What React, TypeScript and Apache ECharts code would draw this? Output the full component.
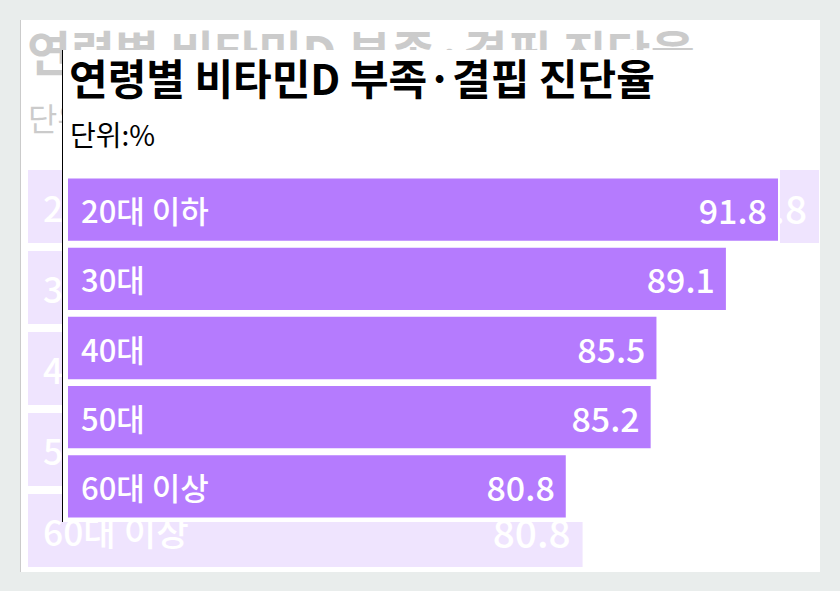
import React, { useEffect, useRef } from 'react';
import * as echarts from 'echarts';

const chartTitle = '연령별 비타민D 부족·결핍 진단율';
const unitText = '단위:%';
const categories = ['20대 이하', '30대', '40대', '50대', '60대 이상'];
const rates = [91.8, 89.1, 85.5, 85.2, 80.8];
const axisMin = 55;
const axisMax = 91.8;

const FONT = '"Noto Sans CJK KR", "Noto Sans", sans-serif';
const BAR_COLOR = '#b57bfe';

interface Layout {
  fs: number;
  titleTop: number;
  subTop: number;
  left: number;
  right: number;
  top: number;
  bottom: number;
  nameGap: number;
  valueGap: number;
}

const buildOption = (l: Layout) => ({
  animation: false,
  title: [
    {
      text: chartTitle,
      left: 1,
      top: l.titleTop,
      textStyle: { fontFamily: FONT, fontSize: 42 * l.fs, fontWeight: 'bold', color: '#000' }
    },
    {
      text: unitText,
      left: 2,
      top: l.subTop,
      textStyle: { fontFamily: FONT, fontSize: 28 * l.fs, fontWeight: 'normal', color: '#000' }
    }
  ],
  grid: { left: l.left, right: l.right, top: l.top, bottom: l.bottom, containLabel: false },
  xAxis: {
    type: 'value',
    min: axisMin,
    max: axisMax,
    show: false
  },
  yAxis: {
    type: 'category',
    data: categories,
    inverse: true,
    z: 10,
    axisLine: { show: false },
    axisTick: { show: false },
    axisLabel: {
      inside: true,
      margin: l.nameGap,
      color: '#fff',
      fontFamily: FONT,
      fontSize: 31 * l.fs,
      fontWeight: 500
    }
  },
  series: [
    {
      type: 'bar',
      data: rates,
      barCategoryGap: '10%',
      itemStyle: { color: BAR_COLOR },
      label: {
        show: true,
        position: 'insideRight',
        distance: l.valueGap,
        color: '#fff',
        fontFamily: FONT,
        fontSize: 34 * l.fs,
        fontWeight: 500,
        formatter: (p: any) => p.value.toFixed(1)
      }
    }
  ]
});

const BarChart: React.FC<{ width: number; height: number; layout: Layout }> = ({ width, height, layout }) => {
  const ref = useRef<HTMLDivElement>(null);

  useEffect(() => {
    if (!ref.current) return;
    const chart = echarts.init(ref.current, undefined, { renderer: 'svg' });
    chart.setOption(buildOption(layout));
    return () => {
      chart.dispose();
    };
  }, [layout]);

  return <div ref={ref} style={{ width, height }} />;
};

const mainLayout: Layout = {
  fs: 1,
  titleTop: 0,
  subTop: 65,
  left: 5,
  right: 2,
  top: 125,
  bottom: 1,
  nameGap: 13,
  valueGap: 11
};

const ghostLayout: Layout = {
  fs: 1.14,
  titleTop: 1,
  subTop: 76,
  left: 7,
  right: 1,
  top: 146,
  bottom: 1,
  nameGap: 15,
  valueGap: 12
};

export default function App() {
  return (
    <div style={{ position: 'fixed', left: 0, top: 0, width: 840, height: 591, background: '#e9edec' }}>
      <div style={{ position: 'absolute', left: 20, top: 20, width: 800, height: 552, background: '#fff', overflow: 'hidden' }}>
        <div style={{ position: 'absolute', left: 0, top: 0, opacity: 0.2, borderLeft: '1px solid #000' }}>
          <BarChart width={799} height={552} layout={ghostLayout} />
        </div>
        <div style={{ position: 'absolute', left: 42, top: 30, background: '#fff', borderLeft: '1px solid #000' }}>
          <BarChart width={717} height={472} layout={mainLayout} />
        </div>
      </div>
    </div>
  );
}
